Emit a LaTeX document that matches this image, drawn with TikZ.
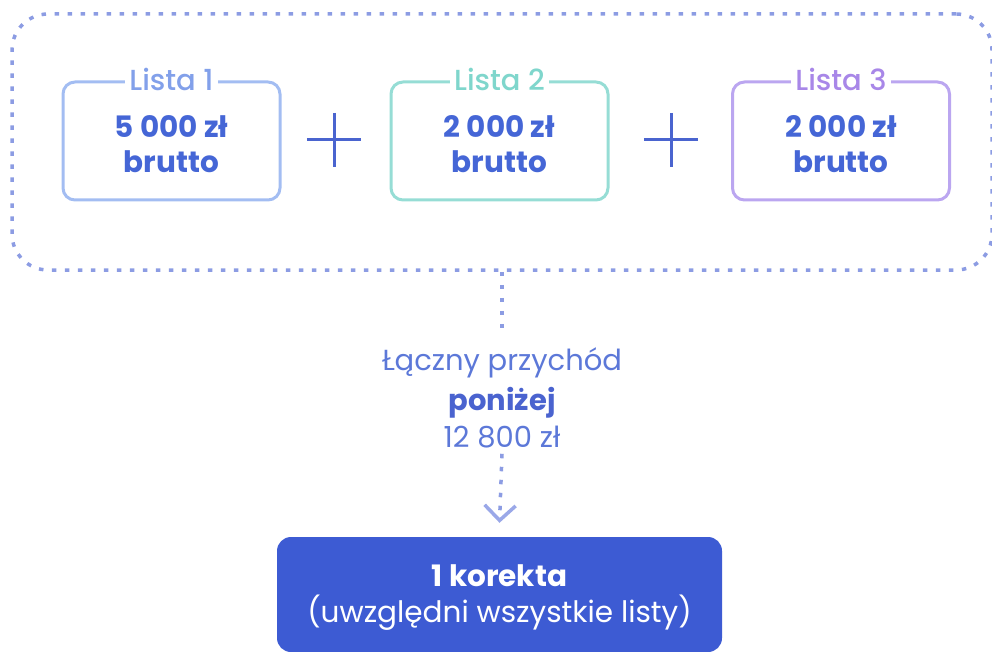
\documentclass[tikz,border=0pt]{standalone}
\usepackage{fontspec}
\setmainfont{Poppins}
\newfontfamily\medfont{Poppins Medium}
\usetikzlibrary{arrows.meta}
\definecolor{dotc}{HTML}{8C9CE3}
\definecolor{boxa}{HTML}{A3BDF2}
\definecolor{tita}{HTML}{82A0EA}
\definecolor{boxb}{HTML}{96DDD5}
\definecolor{titb}{HTML}{7FD6CC}
\definecolor{boxc}{HTML}{BBA6F0}
\definecolor{titc}{HTML}{A887E8}
\definecolor{valc}{HTML}{4566D6}
\definecolor{plusc}{HTML}{4A64CF}
\definecolor{midc}{HTML}{5C78D8}
\definecolor{midb}{HTML}{4A63CF}
\definecolor{resc}{HTML}{3D5BD3}
\definecolor{chev}{HTML}{9AA8E8}
\begin{document}
\begin{tikzpicture}[x=1pt,y=-1pt,
  dots/.style={draw=dotc,line width=3.5pt,dash pattern=on 4.5pt off 8.5pt},
  listbox/.style={draw,rounded corners=12pt,line width=3pt,minimum width=217pt,minimum height=118pt,inner sep=0pt},
  titlenode/.style={fill=white,font=\medfont\fontsize{29}{32}\selectfont,anchor=base,inner xsep=4pt,inner ysep=0pt},
  valnode/.style={text=valc,font=\fontsize{29.5}{32}\selectfont\bfseries,anchor=base,inner sep=0pt},
  plusnode/.style={minimum size=54pt,inner sep=0pt},
  midnode/.style={text=midc,font=\fontsize{29}{32}\selectfont,anchor=base,inner sep=0pt},
  resnode/.style={fill=resc,rounded corners=14pt,minimum width=445pt,minimum height=115pt,inner sep=0pt},
  restext/.style={text=white,font=\fontsize{29.5}{32}\selectfont,anchor=base,inner sep=0pt}]
\useasboundingbox (0,0) rectangle (992,652);
% outer dotted frame
\node[dots,rounded corners=36pt,minimum width=980pt,minimum height=256pt,inner sep=0pt] (outer) at (502,142) {};
% list boxes
\node[listbox,draw=boxa] (b1) at (171.5,141) {};
\node[listbox,draw=boxb] (b2) at (499.5,141) {};
\node[listbox,draw=boxc] (b3) at (841,141) {};
\node[titlenode,text=tita] (t1) at (171.5,91) {Lista 1};
\node[titlenode,text=titb] (t2) at (499.5,91) {Lista 2};
\node[titlenode,text=titc] (t3) at (841,91) {Lista 3};
\node[valnode] (v1) at (171.5,138) {5 000 zł};
\node[valnode] (w1) at (171.5,173) {brutto};
\node[valnode] (v2) at (499.5,138) {2 000 zł};
\node[valnode] (w2) at (499.5,173) {brutto};
\node[valnode] (v3) at (841,138) {2 000 zł};
\node[valnode] (w3) at (841,173) {brutto};
% plus signs
\node[plusnode] (p1) at (334,140) {};
\node[plusnode] (p2) at (671,140) {};
\draw[plusc,line width=3pt] (p1.north) -- (p1.south) (p1.west) -- (p1.east);
\draw[plusc,line width=3pt] (p2.north) -- (p2.south) (p2.west) -- (p2.east);
% middle label
\node[midnode] (m1) at (502,370) {Łączny przychód};
\node[midnode,text=midb,font=\fontsize{29}{32}\selectfont\bfseries] (m2) at (502,410) {poniżej};
\node[midnode] (m3) at (502,447) {12 800 zł};
% result
\node[resnode] (res) at (499.5,594.5) {};
\node[restext,font=\fontsize{29.5}{32}\selectfont\bfseries] (r1) at (499.5,586) {1 korekta};
\node[restext] (r2) at (499.5,622) {(uwzględni wszystkie listy)};
% connectors
\draw[dots] (outer.south) -- ([yshift=12pt]m1.north);
\draw[dots,-{Straight Barb[length=15pt,width=31pt,line width=3.5pt,color=chev]}] ([yshift=-6pt]m3.south) -- ([yshift=14pt]res.north);
\end{tikzpicture}
\end{document}
